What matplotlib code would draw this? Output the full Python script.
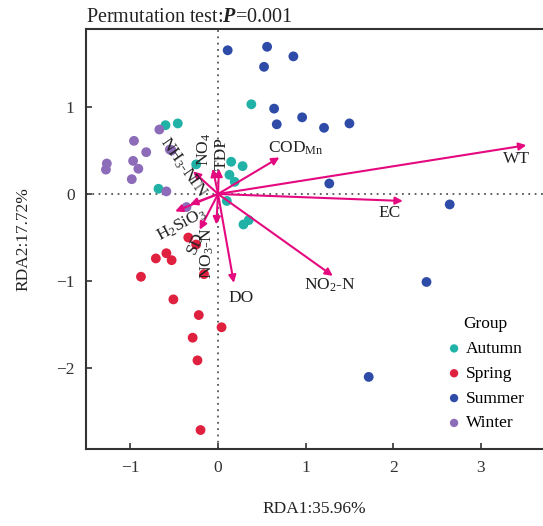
import matplotlib
matplotlib.use('Agg')
import matplotlib.pyplot as plt
import numpy as np

plt.rcParams['font.family'] = ['Liberation Serif', 'DejaVu Serif']
plt.rcParams['mathtext.fontset'] = 'custom'
plt.rcParams['mathtext.rm'] = 'Liberation Serif'
plt.rcParams['mathtext.it'] = 'Liberation Serif:italic'
plt.rcParams['mathtext.bf'] = 'Liberation Serif:bold:italic'

# Site scores (RDA1, RDA2) per season
autumn_x = [0.38, -0.60, -0.46, -0.25, 0.15, 0.28, 0.13, 0.19, -0.68, 0.10, 0.29, 0.35]
autumn_y = [1.03, 0.79, 0.81, 0.34, 0.37, 0.32, 0.22, 0.14, 0.06, -0.08, -0.35, -0.30]

spring_x = [-0.34, -0.25, -0.59, -0.71, -0.53, -0.88, -0.16, -0.51, -0.22, 0.04, -0.29, -0.235, -0.20]
spring_y = [-0.50, -0.58, -0.68, -0.74, -0.76, -0.95, -0.92, -1.21, -1.39, -1.53, -1.65, -1.91, -2.71]

summer_x = [0.11, 0.56, 0.86, 0.525, 0.64, 0.96, 0.67, 1.21, 1.50, 1.27, 2.645, 2.38, 1.72]
summer_y = [1.65, 1.69, 1.58, 1.46, 0.98, 0.88, 0.80, 0.76, 0.81, 0.12, -0.12, -1.01, -2.10]

winter_x = [-0.67, -0.96, -0.82, -0.55, -0.53, -1.27, -1.28, -0.97, -0.91, -0.985, -0.59, -0.36]
winter_y = [0.74, 0.61, 0.48, 0.51, 0.50, 0.35, 0.28, 0.38, 0.29, 0.17, 0.03, -0.15]

groups = ['Autumn', 'Spring', 'Summer', 'Winter']
group_x = [autumn_x, spring_x, summer_x, winter_x]
group_y = [autumn_y, spring_y, summer_y, winter_y]
group_colors = ['#20B2A6', '#E0203F', '#2E4BA8', '#8C6BB8']

# Environmental factor loadings
env_names = ['WT', 'EC', r'COD$_{\mathrm{Mn}}$', r'NO$_2$-N', 'DO', r'NO$_3$-N', 'SD',
             r'H$_2$SiO$_3$', 'TN', r'NH$_3$-N', r'NO$_4$', 'TDP']
env_x = [3.52, 2.11, 0.70, 1.31, 0.18, -0.02, -0.21, -0.49, -0.32, -0.285, -0.06, 0.01]
env_y = [0.56, -0.08, 0.42, -0.94, -1.02, -0.35, -0.41, -0.20, -0.12, 0.26, 0.29, 0.29]

# label placement: (x, y, rotation, ha)
label_pos = [(3.41, 0.40, 0, 'center'), (1.96, -0.22, 0, 'center'), (0.57, 0.52, 0, 'left'),
             (1.28, -1.05, 0, 'center'), (0.26, -1.19, 0, 'center'), (-0.12, -0.68, 90, 'center'),
             (-0.25, -0.56, 65, 'center'), (-0.42, -0.35, 28, 'center'), (-0.25, 0.09, -55, 'center'),
             (-0.46, 0.39, -55, 'center'), (-0.16, 0.51, 90, 'center'), (0.04, 0.47, 90, 'center')]

arrow_color = '#E5097F'

fig = plt.figure(figsize=(5.43, 5.26), dpi=100)
ax = fig.add_axes([0.158, 0.146, 0.842, 0.799])
ax.set_xlim(-1.51, 3.71)
ax.set_ylim(-2.93, 1.895)

ax.axhline(0, color='#555555', ls=(0, (1, 2.5)), lw=1.3, zorder=1)
ax.axvline(0, color='#555555', ls=(0, (1, 2.5)), lw=1.3, zorder=1)

for name, xs, ys, c in zip(groups, group_x, group_y, group_colors):
    ax.scatter(xs, ys, s=50, color=c, edgecolors='none', label=name, zorder=2)

for i, name in enumerate(env_names):
    ax.annotate('', xy=(env_x[i], env_y[i]), xytext=(0, 0),
                arrowprops=dict(arrowstyle='-|>', color=arrow_color, lw=1.5,
                                mutation_scale=11, shrinkA=0, shrinkB=0), zorder=3)
    lx, ly, rot, ha = label_pos[i]
    ax.text(lx, ly, name, rotation=rot, ha=ha, va='center', fontsize=12.5,
            color='#222222', zorder=4)

ax.set_xticks([-1, 0, 1, 2, 3])
ax.set_yticks([-2, -1, 0, 1])
ax.tick_params(direction='in', length=4, width=1.2, labelsize=12.5, colors='#333333',
               pad=8)
for side in ['left', 'bottom', 'top']:
    ax.spines[side].set_linewidth(1.5)
    ax.spines[side].set_color('#333333')
ax.spines['right'].set_visible(False)

ax.set_xlabel('RDA1:35.96%', fontsize=12.5, labelpad=18, color='#222222')
ax.set_ylabel('RDA2:17.72%', fontsize=12.5, labelpad=18, color='#222222')
ax.set_title(r'Permutation test:$\mathbf{P}$=0.001', fontsize=14.5, loc='left',
             pad=5, color='#222222')

ax.legend(title='Group', loc='lower right', bbox_to_anchor=(0.995, 0.005), frameon=False,
          fontsize=12.5, title_fontsize=12.5, handletextpad=0.2, labelspacing=0.5,
          markerscale=0.85, handlelength=1.0)

fig.savefig('out.png', dpi=100)
